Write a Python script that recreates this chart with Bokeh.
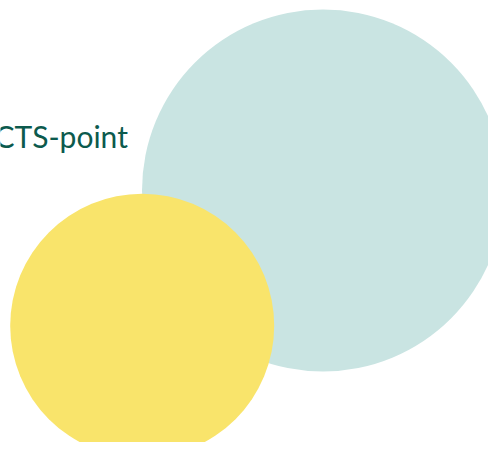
from bokeh.plotting import figure
from bokeh.models import Range1d, ColumnDataSource
from bokeh.core.properties import value
from bokeh.embed import file_html
from bokeh.resources import INLINE

# Bubble data (chart units = reference pixels)
names = ["teal", "yellow"]
cx = [322.5, 141.7]
cy = [190.0, 325.3]
radius = [181.0, 132.0]
colors = ["#c9e4e2", "#f9e46b"]

label_text = ["CTS-point"]
label_x = [-6.0]
label_y = [135.5]

W, H = 488, 442
p = figure(width=W, height=H, output_backend="svg", toolbar_location=None,
           x_range=Range1d(0, W), y_range=Range1d(H, 0),
           min_border=0, outline_line_color=None)
p.axis.visible = False
p.grid.visible = False
p.background_fill_color = "white"
p.border_fill_color = "white"

src = ColumnDataSource(dict(x=cx, y=cy, r=radius, c=colors, n=names))
p.circle(x="x", y="y", radius="r", fill_color="c", line_color=None, source=src)

p.text(x=label_x, y=label_y, text=label_text, text_font=value("Lato"),
       text_font_size="30px", text_color="#0c5a4d", text_align="left",
       text_baseline="alphabetic")

open("out.html", "w").write(file_html(p, INLINE))
